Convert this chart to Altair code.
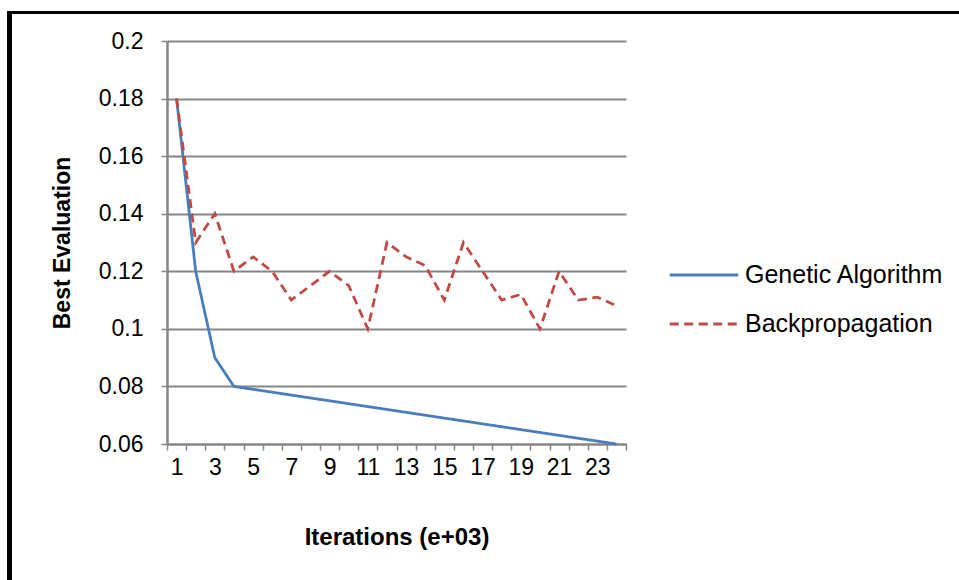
import altair as alt
import pandas as pd

iterations = list(range(1, 25))
genetic = [0.18, 0.12, 0.09, 0.08, 0.079, 0.078, 0.077, 0.076, 0.075, 0.074, 0.073, 0.072,
           0.071, 0.070, 0.069, 0.068, 0.067, 0.066, 0.065, 0.064, 0.063, 0.062, 0.061, 0.060]
backprop = [0.18, 0.13, 0.14, 0.12, 0.125, 0.12, 0.11, 0.115, 0.12, 0.115, 0.10, 0.13,
            0.125, 0.122, 0.11, 0.13, 0.12, 0.11, 0.112, 0.10, 0.12, 0.11, 0.111, 0.108]
series_names = ["Genetic Algorithm", "Backpropagation"]
y_ticks = [0.06, 0.08, 0.1, 0.12, 0.14, 0.16, 0.18, 0.2]

rows = []
for i, it in enumerate(iterations):
    rows.append({"Iteration": it, "Value": genetic[i], "Series": series_names[0]})
    rows.append({"Iteration": it, "Value": backprop[i], "Series": series_names[1]})
df = pd.DataFrame(rows)

FONT = "Liberation Sans"

lines = alt.Chart(df).mark_line(strokeWidth=2.8).encode(
    x=alt.X("Iteration:O", bandPosition=0.5,
            scale=alt.Scale(type="band", paddingInner=0, paddingOuter=0),
            axis=alt.Axis(title="Iterations (e+03)", labelAngle=0, tickBand="extent",
                          labelExpr="datum.value % 2 == 1 ? datum.label : ''",
                          labelOverlap=False, domainColor="#868686", domainWidth=2,
                          tickColor="#868686", tickWidth=1.5, tickSize=6,
                          labelFont=FONT, labelFontSize=23, labelColor="#000000",
                          labelPadding=6, titleFont=FONT, titleFontSize=24,
                          titleFontWeight="bold", titleColor="#000000", titlePadding=46,
                          grid=False)),
    y=alt.Y("Value:Q", scale=alt.Scale(domain=[0.06, 0.2], nice=False, zero=False),
            axis=alt.Axis(title="Best Evaluation", values=y_ticks, format="~g",
                          domainColor="#868686", domainWidth=2.5,
                          tickColor="#868686", tickWidth=1.5, tickSize=6,
                          gridColor="#868686", gridWidth=2,
                          labelFont=FONT, labelFontSize=23, labelColor="#000000",
                          labelPadding=18, titleFont=FONT, titleFontSize=23,
                          titleFontWeight="bold", titleColor="#000000", titlePadding=24)),
    color=alt.Color("Series:N", sort=series_names,
                    scale=alt.Scale(domain=series_names, range=["#4A7EBB", "#BE4B48"]),
                    legend=alt.Legend(title=None, orient="none", legendX=501, legendY=198,
                                      symbolType="stroke", symbolSize=4700,
                                      symbolStrokeWidth=2.8, labelFont=FONT,
                                      labelFontSize=25, labelColor="#000000",
                                      labelOffset=5, rowPadding=0, labelLimit=400)),
    strokeDash=alt.StrokeDash("Series:N", sort=series_names,
                              scale=alt.Scale(domain=series_names, range=[[1, 0], [9, 5.5]]),
                              legend=None),
)

frame_top = alt.Chart(df).mark_rule(color="#000000", strokeWidth=3).encode(
    x=alt.value(-160), x2=alt.value(800), y=alt.value(-28.5))
frame_left = alt.Chart(df).mark_rule(color="#000000", strokeWidth=5).encode(
    x=alt.value(-157.5), y=alt.value(-30), y2=alt.value(545))

chart = alt.layer(frame_top, frame_left, lines).properties(
    width=459, height=403,
    autosize=alt.AutoSizeParams(type="none"),
    padding={"left": 167, "top": 41, "right": 333, "bottom": 136},
    background="#ffffff",
).configure_view(stroke=None)

chart.save("out.html", embed_options={"renderer": "svg", "actions": False})
